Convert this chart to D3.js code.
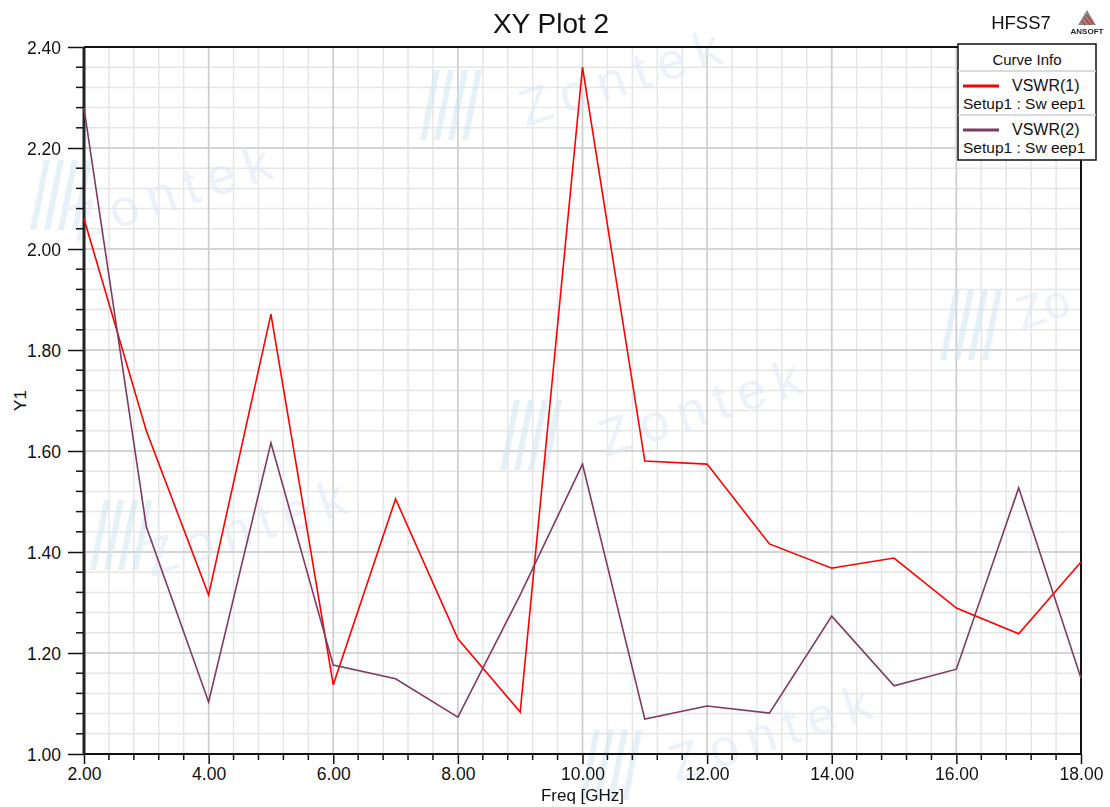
<!DOCTYPE html>
<html>
<head>
<meta charset="utf-8">
<script src="https://cdn.jsdelivr.net/npm/d3@7"></script>
<style>
  body { margin: 0; background: #fff; }
  text { font-family: "Liberation Sans", Arial, sans-serif; }
</style>
</head>
<body>
<svg id="chart"></svg>
<script>
const FREQ = [2, 3, 4, 5, 6, 7, 8, 9, 10, 11, 12, 13, 14, 15, 16, 17, 18];
const VSWR_1 = [2.06, 1.64, 1.315, 1.871, 1.137, 1.505, 1.228, 1.083, 2.36, 1.58, 1.574, 1.416, 1.368, 1.388, 1.289, 1.238, 1.38];
const VSWR_2 = [2.279, 1.45, 1.103, 1.616, 1.176, 1.149, 1.073, 1.315, 1.574, 1.069, 1.095, 1.081, 1.273, 1.135, 1.168, 1.527, 1.15];
const X_TICKS = [2, 4, 6, 8, 10, 12, 14, 16, 18];
const Y_TICKS = [1.0, 1.2, 1.4, 1.6, 1.8, 2.0, 2.2, 2.4];
const SERIES_NAMES = ["VSWR(1)", "VSWR(2)"];
const SERIES_SUB = "Setup1 : Sw eep1";
const SERIES_COLOURS = ["#ff0000", "#7f3a62"];

const WIDTH = 1110,
      HEIGHT = 807;
const MARGIN = { left: 84, right: 29, top: 47, bottom: 53 };

const svg = d3.select("#chart")
    .attr("width", WIDTH)
    .attr("height", HEIGHT);

const x = d3.scaleLinear()
    .domain([2, 18])
    .range([MARGIN.left, WIDTH - MARGIN.right]);
const y = d3.scaleLinear()
    .domain([1.0, 2.4])
    .range([HEIGHT - MARGIN.bottom, MARGIN.top]);

function drawGrid(container) {
    let xMinor = d3.range(2, 18.001, 0.4);
    let yMinor = d3.range(1.0, 2.4001, 0.04);

    // minor grid
    container.append("g")
        .selectAll("line")
        .data(xMinor)
        .join("line")
        .attr("x1", d => x(d)).attr("x2", d => x(d))
        .attr("y1", y(1.0)).attr("y2", y(2.4))
        .attr("stroke", "#e6e6e6")
        .attr("stroke-width", 1.5);
    container.append("g")
        .selectAll("line")
        .data(yMinor)
        .join("line")
        .attr("x1", x(2)).attr("x2", x(18))
        .attr("y1", d => y(d)).attr("y2", d => y(d))
        .attr("stroke", "#e6e6e6")
        .attr("stroke-width", 1.5);

    // major grid
    container.append("g")
        .selectAll("line")
        .data(X_TICKS)
        .join("line")
        .attr("x1", d => x(d)).attr("x2", d => x(d))
        .attr("y1", y(1.0)).attr("y2", y(2.4))
        .attr("stroke", "#cccccc")
        .attr("stroke-width", 1.5);
    container.append("g")
        .selectAll("line")
        .data(Y_TICKS)
        .join("line")
        .attr("x1", x(2)).attr("x2", x(18))
        .attr("y1", d => y(d)).attr("y2", d => y(d))
        .attr("stroke", "#cccccc")
        .attr("stroke-width", 1.5);
}

function drawWatermarks(container) {
    // faint "Zontek" stamps seen behind the plot
    let marks = [
        { x: 30, y: 230, tx: 190, ty: 205, word: "Zontek" },
        { x: 420, y: 140, tx: 640, ty: 90, word: "Zontek" },
        { x: 500, y: 470, tx: 720, ty: 420, word: "Zontek" },
        { x: 90, y: 570, tx: 265, ty: 540, word: "Zontek" },
        { x: 940, y: 360, tx: 1022, ty: 330, word: "Zo" },
        { x: 580, y: 800, tx: 790, ty: 745, word: "Zontek" }
    ];
    let g = container.append("g").attr("opacity", 0.55);
    marks.forEach(m => {
        let full = m.word.length > 2;
        for (let i = 0; i < 4; i++) {
            g.append("path")
                .attr("d", `M${m.x + i * 14},${m.y} l14,-70 l6,0 l-14,70 z`)
                .attr("fill", "#cfe6ef");
        }
        g.append("text")
            .attr("x", m.tx)
            .attr("y", m.ty)
            .attr("transform", `rotate(-18, ${m.tx}, ${m.ty})`)
            .attr("dx", full ? -120 : 0)
            .attr("font-size", full ? 52 : 46)
            .attr("letter-spacing", full ? 10 : 0)
            .attr("fill", "#dde7f4")
            .text(m.word);
    });
}

function drawAxes(container) {
    let xAxis = d3.axisBottom(x)
        .tickValues(X_TICKS)
        .tickFormat(d3.format(".2f"))
        .tickSize(10)
        .tickPadding(4);
    let yAxis = d3.axisLeft(y)
        .tickValues(Y_TICKS)
        .tickFormat(d3.format(".2f"))
        .tickSize(16)
        .tickPadding(7);

    let gx = container.append("g")
        .attr("transform", `translate(0, ${y(1.0)})`)
        .call(xAxis);
    let gy = container.append("g")
        .attr("transform", `translate(${x(2)}, 0)`)
        .call(yAxis);

    [gx, gy].forEach(g => {
        g.select(".domain").remove();
        g.selectAll(".tick line").attr("stroke", "#111").attr("stroke-width", 1.5);
        g.selectAll(".tick text")
            .attr("font-size", 17.5)
            .attr("fill", "#111");
    });
    gy.selectAll(".tick text").attr("dy", "0.35em");

    // minor ticks
    container.append("g")
        .selectAll("line")
        .data(d3.range(2.4, 18, 0.4).filter(d => Math.abs(d / 2 - Math.round(d / 2)) > 0.01))
        .join("line")
        .attr("x1", d => x(d)).attr("x2", d => x(d))
        .attr("y1", y(1.0)).attr("y2", y(1.0) + 6)
        .attr("stroke", "#111").attr("stroke-width", 1.5);
    container.append("g")
        .selectAll("line")
        .data(d3.range(1.04, 2.4, 0.04).filter(d => Math.abs(d / 0.2 - Math.round(d / 0.2)) > 0.01))
        .join("line")
        .attr("x1", x(2) - 8).attr("x2", x(2))
        .attr("y1", d => y(d)).attr("y2", d => y(d))
        .attr("stroke", "#111").attr("stroke-width", 1.5);

    // frame
    container.append("line")
        .attr("x1", x(2)).attr("x2", x(18))
        .attr("y1", y(1.0)).attr("y2", y(1.0))
        .attr("stroke", "#111").attr("stroke-width", 2);
    container.append("line")
        .attr("x1", x(2)).attr("x2", x(2))
        .attr("y1", y(1.0)).attr("y2", y(2.4))
        .attr("stroke", "#222").attr("stroke-width", 3);
    container.append("line")
        .attr("x1", x(2)).attr("x2", x(18))
        .attr("y1", y(2.4)).attr("y2", y(2.4))
        .attr("stroke", "#111").attr("stroke-width", 2);
    container.append("line")
        .attr("x1", x(18)).attr("x2", x(18))
        .attr("y1", y(1.0)).attr("y2", y(2.4))
        .attr("stroke", "#111").attr("stroke-width", 2);

    // axis titles
    container.append("text")
        .attr("x", (x(2) + x(18)) / 2)
        .attr("y", 801)
        .attr("text-anchor", "middle")
        .attr("font-size", 17)
        .attr("fill", "#111")
        .text("Freq [GHz]");
    container.append("text")
        .attr("transform", `translate(26, ${(y(1.0) + y(2.4)) / 2}) rotate(-90)`)
        .attr("text-anchor", "middle")
        .attr("font-size", 17)
        .attr("fill", "#111")
        .text("Y1");
}

function drawSeries(container) {
    let line = d3.line()
        .x((d, i) => x(FREQ[i]))
        .y(d => y(d));
    [VSWR_1, VSWR_2].forEach((values, i) => {
        container.append("path")
            .datum(values)
            .attr("d", line)
            .attr("fill", "none")
            .attr("stroke", SERIES_COLOURS[i])
            .attr("stroke-width", 1.6)
            .attr("stroke-linejoin", "miter");
    });
}

function drawHeader(container) {
    container.append("text")
        .attr("x", 551)
        .attr("y", 33)
        .attr("text-anchor", "middle")
        .attr("font-size", 28)
        .attr("fill", "#111")
        .text("XY Plot 2");
    container.append("text")
        .attr("x", 1021)
        .attr("y", 29)
        .attr("text-anchor", "middle")
        .attr("font-size", 18.5)
        .attr("fill", "#111")
        .text("HFSS7");

    // ansoft logo
    let logo = container.append("g").attr("transform", "translate(1087, 10)");
    logo.append("path")
        .attr("d", "M0,0 L9,15 L-9,15 Z")
        .attr("fill", "#8a8a8a");
    logo.append("path")
        .attr("d", "M-3,7 L3,15 M0,5 L6,14 M-5,11 L-2,15")
        .attr("stroke", "#e02020")
        .attr("stroke-width", 1.2);
    logo.append("text")
        .attr("x", 0)
        .attr("y", 24)
        .attr("text-anchor", "middle")
        .attr("font-size", 8)
        .attr("font-weight", "bold")
        .attr("fill", "#222")
        .text("ANSOFT");
}

function drawLegend(container) {
    let left = 958, top = 44, w = 138;
    let g = container.append("g");
    g.append("rect")
        .attr("x", left).attr("y", top)
        .attr("width", w).attr("height", 116)
        .attr("fill", "#fff")
        .attr("stroke", "#111")
        .attr("stroke-width", 1.5);
    g.append("text")
        .attr("x", left + w / 2)
        .attr("y", top + 21)
        .attr("text-anchor", "middle")
        .attr("font-size", 15)
        .attr("fill", "#111")
        .text("Curve Info");
    [71, 115].forEach(sy =>
        g.append("line")
            .attr("x1", left).attr("x2", left + w)
            .attr("y1", sy).attr("y2", sy)
            .attr("stroke", "#cfcfcf")
            .attr("stroke-width", 1.5)
    );
    SERIES_NAMES.forEach((name, i) => {
        let rowTop = 71 + i * 44;
        g.append("line")
            .attr("x1", left + 5).attr("x2", left + 41)
            .attr("y1", rowTop + 15).attr("y2", rowTop + 15)
            .attr("stroke", SERIES_COLOURS[i])
            .attr("stroke-width", 3);
        g.append("text")
            .attr("x", left + 54)
            .attr("y", rowTop + 20)
            .attr("font-size", 16)
            .attr("fill", "#111")
            .text(name);
        g.append("text")
            .attr("x", left + 5)
            .attr("y", rowTop + 38)
            .attr("font-size", 15.5)
            .attr("fill", "#111")
            .text(SERIES_SUB);
    });
}

drawGrid(svg);
drawWatermarks(svg);
drawAxes(svg);
drawSeries(svg);
drawHeader(svg);
drawLegend(svg);
</script>
</body>
</html>
